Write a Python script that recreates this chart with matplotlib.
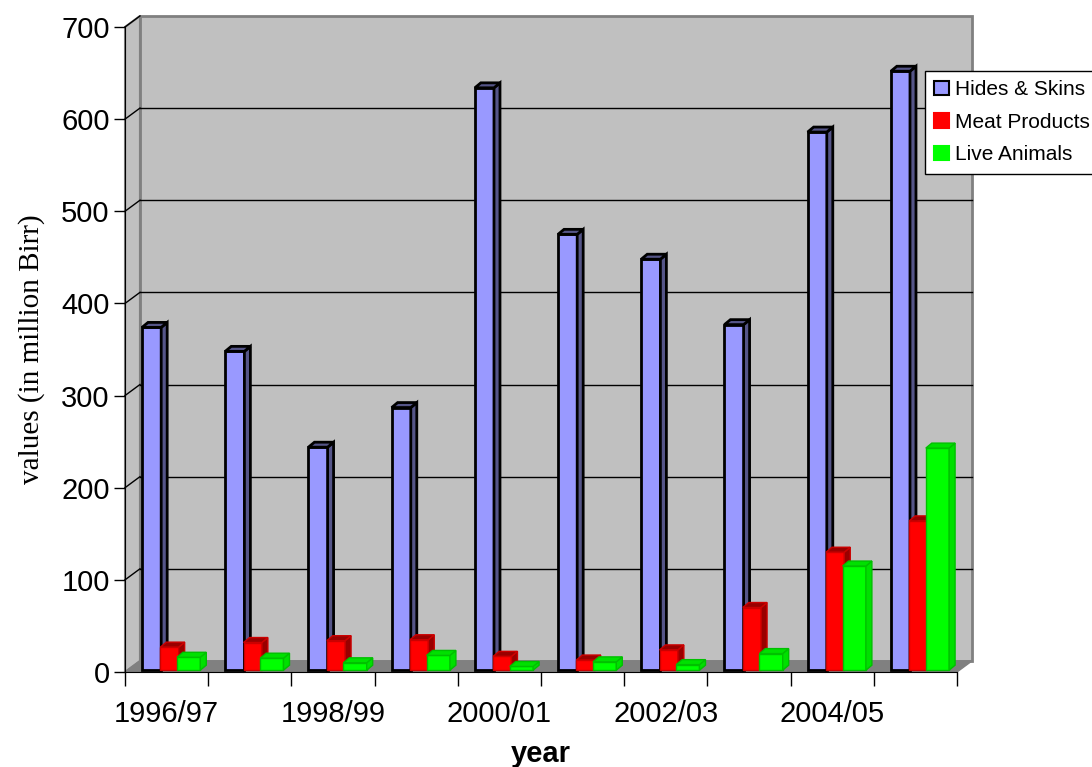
import matplotlib
matplotlib.use("Agg")
import matplotlib.pyplot as plt
from matplotlib.patches import Polygon, Patch

years = ["1996/97", "1997/98", "1998/99", "1999/00", "2000/01",
         "2001/02", "2002/03", "2003/04", "2004/05", "2005/06"]
hides_skins = [372, 346, 242, 285, 632, 473, 446, 375, 584, 650]
meat_products = [25, 30, 32, 33, 15, 11, 22, 68, 128, 162]
live_animals = [14, 13, 8, 16, 4, 9, 6, 18, 113, 241]

## 3D look settings (data units)
WALL_DX, WALL_DY = 0.18, 12     # back wall offset
SIDE_DX, SIDE_DY = 0.072, 5.4   # bar depth
BASE = 2

series = [
    # values, label, front colour, side colour, edge, left offset, width
    (hides_skins, "Hides & Skins", "#9999FF", "#555588", "black", 0.205, 0.23),
    (meat_products, "Meat Products", "#FF0000", "#990000", "#CC0000", 0.425, 0.22),
    (live_animals, "Live Animals", "#00FF00", "#00E000", "#00C000", 0.625, 0.28),
]

plt.rcParams['font.family'] = ['Liberation Sans', 'DejaVu Sans']
fig = plt.figure(figsize=(10.92, 7.67), dpi=100)
ax = fig.add_axes([125 / 1092, 1 - 672 / 767, 832 / 1092, 645 / 767])
ax.set_xlim(0, 10)
ax.set_ylim(0, 700)
ax.patch.set_visible(False)

# walls and floor
back = Polygon([(WALL_DX, WALL_DY), (10 + WALL_DX, WALL_DY), (10 + WALL_DX, 700 + WALL_DY),
                (WALL_DX, 700 + WALL_DY)], closed=True, fc="#C0C0C0", ec="#808080", lw=2,
               clip_on=False, zorder=0)
side = Polygon([(0, 0), (WALL_DX, WALL_DY), (WALL_DX, 700 + WALL_DY), (0, 700)], closed=True,
               fc="#C0C0C0", ec="#808080", lw=1.5, clip_on=False, zorder=0)
floor = Polygon([(0, 0), (10, 0), (10 + WALL_DX, WALL_DY), (WALL_DX, WALL_DY)], closed=True,
                fc="#808080", ec="#808080", lw=1, clip_on=False, zorder=0.5)
ax.add_patch(back)
ax.add_patch(side)
ax.add_patch(floor)

for v in range(100, 701, 100):
    if v < 700:
        ax.plot([WALL_DX, 10 + WALL_DX], [v + WALL_DY, v + WALL_DY], color="black", lw=1,
                clip_on=False, zorder=0.6)
    ax.plot([0, WALL_DX], [v, v + WALL_DY], color="black", lw=1, clip_on=False, zorder=0.6)

# bars
z = 1
for i in range(len(years)):
    for vals, label, fc, sc, ec, off, w in series:
        x0 = i + off
        top = BASE + vals[i]
        lw = 2 if ec == "black" else 1
        ax.bar(x0, vals[i], width=w, bottom=BASE, align="edge", color=fc, edgecolor=ec,
               lw=lw, zorder=z, clip_on=False)
        ax.add_patch(Polygon([(x0 + w, BASE), (x0 + w + SIDE_DX, BASE + SIDE_DY),
                              (x0 + w + SIDE_DX, top + SIDE_DY), (x0 + w, top)], closed=True,
                             fc=sc, ec=ec, lw=lw, zorder=z, clip_on=False))
        ax.add_patch(Polygon([(x0, top), (x0 + w, top), (x0 + w + SIDE_DX, top + SIDE_DY),
                              (x0 + SIDE_DX, top + SIDE_DY)], closed=True,
                             fc=sc, ec=ec, lw=lw, zorder=z, clip_on=False))
        z += 1

# axes
for s in ["top", "right"]:
    ax.spines[s].set_visible(False)
ax.spines["left"].set_color("black")
ax.spines["bottom"].set_color("black")
ax.spines["left"].set_zorder(100)
ax.spines["bottom"].set_zorder(100)
ax.set_yticks(range(0, 701, 100))
ax.tick_params(axis="y", length=8, width=1, labelsize=21, pad=3)
ax.set_xticks(range(0, 11))
ax.set_xticklabels([])
ax.tick_params(axis="x", length=10, width=1)
ax.set_xticks([i + 0.5 for i in range(0, 10, 2)], minor=True)
ax.set_xticklabels(years[::2], minor=True, fontsize=21)
ax.tick_params(axis="x", which="minor", length=0, pad=20)

ax.set_xlabel("year", fontsize=21, fontweight="bold", labelpad=9)
ax.set_ylabel("values (in million Birr)", fontsize=21, family="Liberation Serif", labelpad=12)

handles = [Patch(fc=s[2], ec="black" if s[4] == "black" else s[2], lw=1.5, label=s[1])
           for s in series]
fig.legend(handles=handles, loc="upper left", bbox_to_anchor=(925 / 1092, 1 - 71 / 767),
           fontsize=15, frameon=True, fancybox=False, edgecolor="black", borderaxespad=0,
           handlelength=0.7, handleheight=0.7, handletextpad=0.3, labelspacing=0.65,
           borderpad=0.45, framealpha=1)

fig.savefig("out.png", dpi=100)
